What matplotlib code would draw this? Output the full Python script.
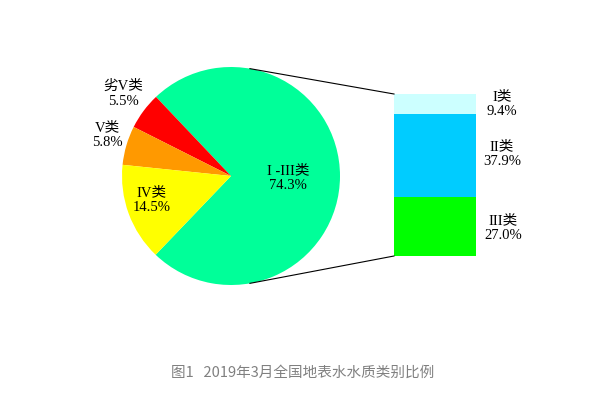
import matplotlib
matplotlib.use("Agg")
import matplotlib.pyplot as plt
import numpy as np

# data
pie_labels = ["I -III类", "劣V类", "V类", "IV类"]
pie_values = [74.3, 5.5, 5.8, 14.5]
pie_colors = ["#00FF99", "#FF0000", "#FF9900", "#FFFF00"]

bar_labels = ["III类", "II类", "I类"]
bar_values = [27.0, 37.9, 9.4]
bar_colors = ["#00FF00", "#00CCFF", "#CCFFFF"]

caption = "图1   2019年3月全国地表水水质类别比例"

W, H = 613, 394
fig = plt.figure(figsize=(W / 100, H / 100), dpi=100)
ax = fig.add_axes([0, 0, 1, 1])

serif = ["Liberation Serif", "Noto Sans CJK SC"]

# pie (pixel coordinates, y up)
cx, cy, r = 231, H - 176, 109
start = -pie_values[0] / 100 * 360 / 2
wedges, _ = ax.pie(pie_values, colors=pie_colors, startangle=start,
                   counterclock=True, center=(cx, cy), radius=r, frame=True,
                   wedgeprops=dict(linewidth=0))

# stacked bar
bx, bw = 435, 82
bar_bottom = H - 256
scale = 162 / sum(bar_values)
bottom = bar_bottom
for v, c in zip(bar_values, bar_colors):
    ax.bar(bx, v * scale, bottom=bottom, width=bw, color=c, linewidth=0)
    bottom += v * scale

# connector lines
ang = np.deg2rad(80)
ax.plot([cx + r * np.cos(ang), bx - bw / 2], [cy + r * np.sin(ang), bottom],
        color="black", lw=0.8)
ax.plot([cx + r * np.cos(-ang), bx - bw / 2], [cy + r * np.sin(-ang), bar_bottom],
        color="black", lw=0.8)

# pie labels
pie_pos = [(288, 178), (123, 94), (107, 135), (152, 200)]
for lab, v, (x, y) in zip(pie_labels, pie_values, pie_pos):
    ax.text(x, H - y, f"{lab}\n{v:.1f}%", ha="center", va="center",
            fontsize=10.5, family=serif, linespacing=1.25)

# bar labels
bar_pos = [(503, 228), (502, 154), (502, 104)]
for lab, v, (x, y) in zip(bar_labels, bar_values, bar_pos):
    ax.text(x, H - y, f"{lab}\n{v:.1f}%", ha="center", va="center",
            fontsize=10.5, family=serif, linespacing=1.25)

ax.text(303, H - 373, caption, ha="center", va="center", fontsize=10.5,
        color="#808080", family=["Noto Sans CJK SC", "DejaVu Sans"])

ax.set_xlim(0, W)
ax.set_ylim(0, H)
ax.set_aspect("auto")
ax.axis("off")

fig.savefig("out.png", dpi=100, facecolor="white")
